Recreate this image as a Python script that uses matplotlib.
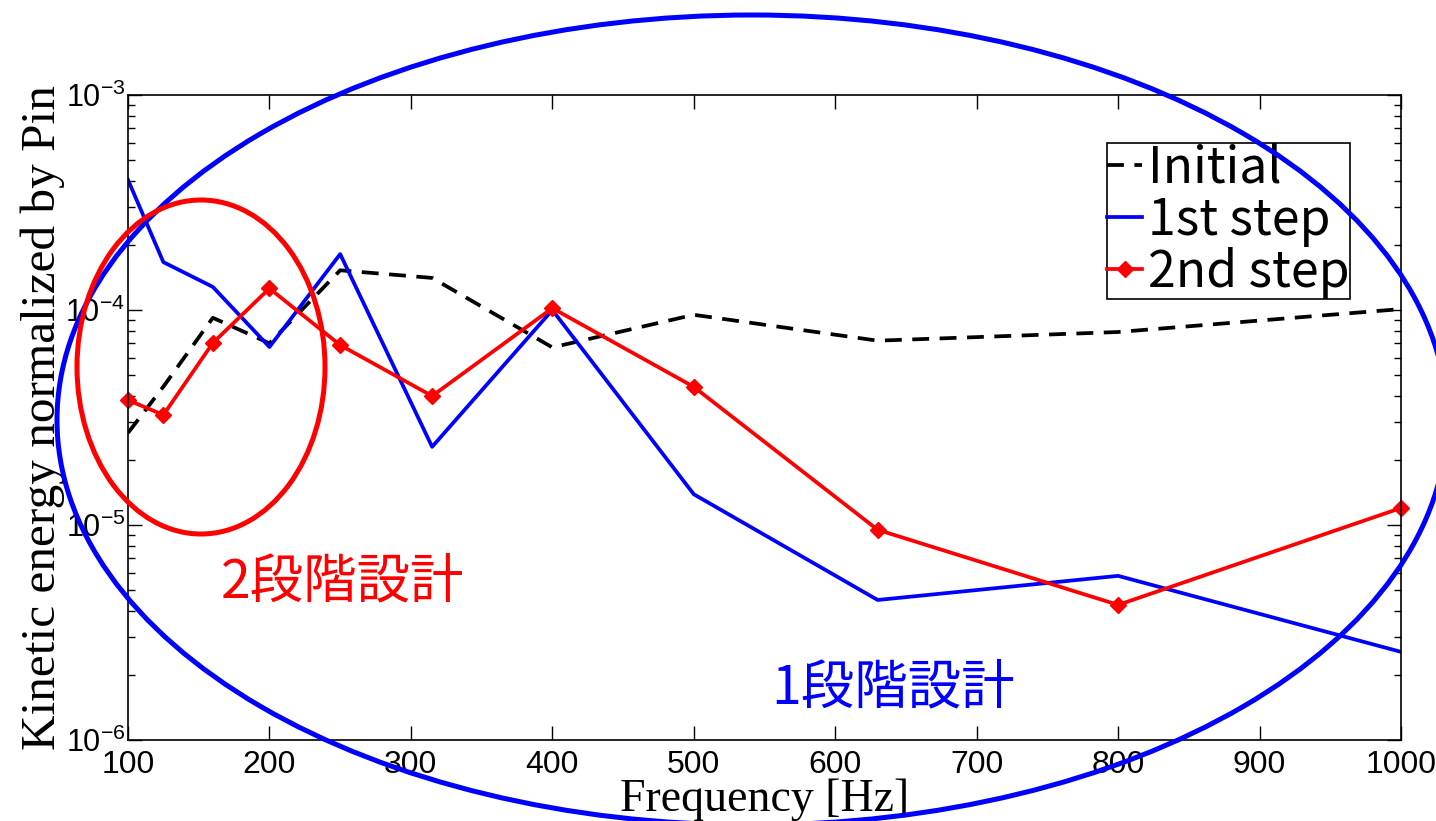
import numpy as np
import matplotlib.pyplot as plt
from matplotlib.patches import Ellipse
from matplotlib.ticker import LogLocator, NullFormatter

plt.rcParams['font.family'] = ['Liberation Sans', 'DejaVu Sans']
plt.rcParams['mathtext.fontset'] = 'custom'
plt.rcParams['mathtext.rm'] = 'Liberation Sans'

# 1/3 octave band centre frequencies [Hz]
freq = [100, 125, 160, 200, 250, 315, 400, 500, 630, 800, 1000]
initial = [2.68e-5, 4.4e-5, 9.2e-5, 7.0e-5, 1.53e-4, 1.41e-4, 6.7e-5, 9.5e-5, 7.2e-5, 7.9e-5, 1.01e-4]
step1 = [4.03e-4, 1.67e-4, 1.28e-4, 6.73e-5, 1.82e-4, 2.31e-5, 1.0e-4, 1.39e-5, 4.48e-6, 5.8e-6, 2.57e-6]
step2 = [3.81e-5, 3.25e-5, 7.03e-5, 1.26e-4, 6.87e-5, 3.98e-5, 1.02e-4, 4.39e-5, 9.5e-6, 4.25e-6, 1.2e-5]

fig = plt.figure(figsize=(14.36, 8.21), dpi=100)
ax = fig.add_axes([128/1436, 81/821, 1273/1436, 645/821])

ax.plot(freq, initial, 'k--', lw=2.7, dashes=(4.5, 2.8), label='Initial')
ax.plot(freq, step1, color='#0000ff', lw=2.7, label='1st step')
ax.plot(freq, step2, color='#ff0000', lw=2.7, marker='D', ms=8.5, label='2nd step', clip_on=False)

ax.set_yscale('log')
ax.set_xlim(100, 1000)
ax.set_ylim(1e-6, 1e-3)
ax.set_xticks(range(100, 1001, 100))
ax.yaxis.set_minor_locator(LogLocator(base=10, subs=np.arange(2, 10)))
ax.yaxis.set_minor_formatter(NullFormatter())
ax.tick_params(which='both', direction='in', top=True, right=True, width=1)
ax.tick_params(axis='x', which='major', length=10, pad=7, labelsize=23)
ax.tick_params(axis='y', which='major', length=10, pad=2, labelsize=22)
ax.tick_params(which='minor', length=5)
for s in ax.spines.values():
    s.set_linewidth(1.2)

ax.set_xlabel('Frequency [Hz]', fontsize=33, family='Liberation Serif', labelpad=-1)
ax.set_ylabel('Kinetic energy normalized by Pin', fontsize=35.5, family='Liberation Serif', labelpad=0)

leg = ax.legend(loc='upper right', bbox_to_anchor=(0.96, 0.926),
                prop={'family': ['Noto Sans CJK JP'], 'size': 36},
                handlelength=0.7, handletextpad=0.12, labelspacing=0.0,
                borderpad=0.0, borderaxespad=0, fancybox=False, framealpha=1)
leg.get_frame().set_edgecolor('black')
leg.get_frame().set_linewidth(1.2)

# annotation ellipses drawn in figure inches
blue_ell = Ellipse((7.52, (821 - 420) / 100), 13.9, 8.1, transform=fig.dpi_scale_trans,
                   fill=False, ec='#0000ff', lw=3.6, clip_on=False)
red_ell = Ellipse((2.01, (821 - 367) / 100), 2.48, 3.34, transform=fig.dpi_scale_trans,
                  fill=False, ec='#ff0000', lw=3.6, clip_on=False)
fig.add_artist(blue_ell)
fig.add_artist(red_ell)

fig.text(343/1436, 1 - 582/821, '2段階設計', color='#ff0000', fontsize=38.5,
         family=['Noto Sans CJK JP'], ha='center', va='center')
fig.text(893/1436, 1 - 688/821, '1段階設計', color='#0000ff', fontsize=38.5,
         family=['Noto Sans CJK JP'], ha='center', va='center')

fig.savefig('out.png', dpi=100)
